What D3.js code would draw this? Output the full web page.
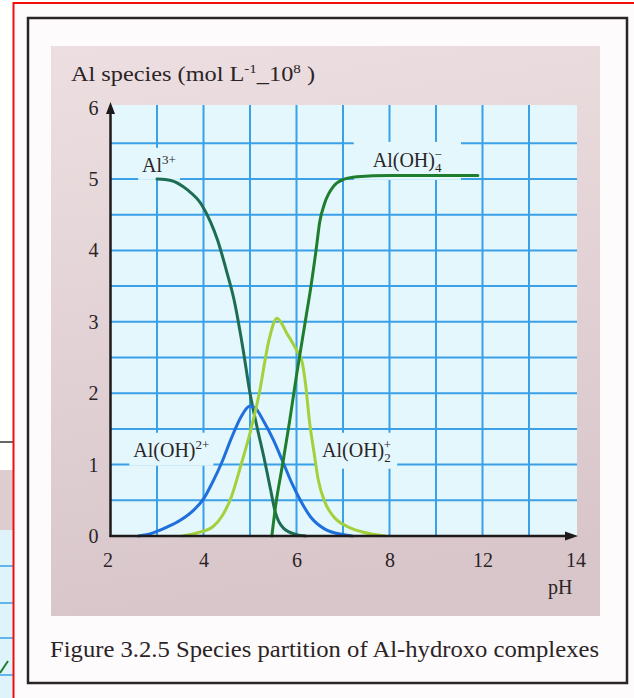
<!DOCTYPE html>
<html>
<head>
<meta charset="utf-8">
<script src="https://cdn.jsdelivr.net/npm/d3@7"></script>
<style>
  html, body { margin: 0; padding: 0; background: #fff; }
  svg { display: block; }
</style>
</head>
<body>
<div id="chart"></div>
<script>
// Species partition of Al-hydroxo complexes (textbook fig 3.2.5)

// x values are pH positions on the axis, y in mol L-1 x 10^8
const al3 = [
  [3.0, 5.0], [3.3, 4.98], [3.65, 4.85], [3.95, 4.65], [4.15, 4.4], [4.3, 4.15],
  [4.5, 3.7], [4.65, 3.33], [4.85, 2.62], [5.0, 2.0], [5.15, 1.53], [5.3, 1.1],
  [5.43, 0.69], [5.55, 0.32], [5.72, 0.11], [6.0, 0.02], [6.2, 0]
];
const alOH = [
  [2.6, 0], [2.9, 0.04], [3.2, 0.12], [3.5, 0.22], [3.8, 0.37], [4.0, 0.52],
  [4.2, 0.76], [4.4, 1.04], [4.6, 1.37], [4.8, 1.66], [5.0, 1.82], [5.1, 1.8],
  [5.3, 1.6], [5.5, 1.35], [5.7, 1.05], [5.9, 0.74], [6.1, 0.48], [6.3, 0.27],
  [6.6, 0.1], [7.0, 0.02], [7.2, 0]
];
const alOH2 = [
  [3.55, 0], [3.9, 0.05], [4.2, 0.13], [4.4, 0.28], [4.6, 0.55], [4.8, 0.98],
  [5.0, 1.44], [5.2, 2.0], [5.4, 2.72], [5.58, 3.05], [5.8, 2.83], [6.02, 2.58],
  [6.12, 2.44], [6.2, 2.1], [6.28, 1.6], [6.37, 1.2], [6.47, 0.78], [6.62, 0.46],
  [6.8, 0.27], [7.1, 0.13], [7.4, 0.06], [7.9, 0]
];
const alOH4 = [
  [5.47, 0], [5.55, 0.42], [5.7, 1.0], [5.85, 1.6], [6.0, 2.25], [6.1, 2.65],
  [6.2, 3.05], [6.3, 3.45], [6.42, 4.0], [6.5, 4.4], [6.6, 4.65], [6.8, 4.9],
  [7.0, 4.99], [7.3, 5.03], [8.0, 5.05], [9.9, 5.05]
];

const xTicks = [2, 4, 6, 8, 10, 12];
const xTickLabels = ['2', '4', '6', '8', '12', '14'];
const yTicks = [0, 1, 2, 3, 4, 5, 6];

const series = [
  { key: 'al3', data: al3, color: '#1c6d52' },
  { key: 'aloh', data: alOH, color: '#1f6fdd' },
  { key: 'aloh2', data: alOH2, color: '#a3d13c' },
  { key: 'aloh4', data: alOH4, color: '#1f7e2e' }
];

// label text pieces, anchored at (pH, value) of the text start/baseline
const labels = [
  { base: 'Al', sub: null, sup: '3+', at: [2.68, 5.1], pad: [4, 4] },
  { base: 'Al(OH)', sub: '4', sup: '\u2212', at: [7.64, 5.17], pad: [19, 5] },
  { base: 'Al(OH)', sub: null, sup: '2+', at: [2.49, 1.11], pad: [4, 4] },
  { base: 'Al(OH)', sub: '2', sup: '+', at: [6.55, 1.11], pad: [6, 4] }
];

const W = 634, H = 698;
const svg = d3.select('#chart').append('svg')
  .attr('width', W).attr('height', H)
  .style('font-family', '"Liberation Serif", "Times New Roman", serif');

const defs = svg.append('defs');
const grad = defs.append('linearGradient').attr('id', 'pink')
  .attr('x1', 0).attr('y1', 0).attr('x2', 0.15).attr('y2', 1);
grad.append('stop').attr('offset', '0%').attr('stop-color', '#eddfe1');
grad.append('stop').attr('offset', '100%').attr('stop-color', '#d8c6ca');

// fragment of the neighbouring page at the far left
svg.append('rect').attr('x', 0).attr('y', 0).attr('width', W).attr('height', H).attr('fill', '#fff');
svg.append('line').attr('x1', 0).attr('x2', 13).attr('y1', 442).attr('y2', 442)
  .attr('stroke', '#333').attr('stroke-width', 1.5);
svg.append('rect').attr('x', 0).attr('y', 470).attr('width', 13).attr('height', 60).attr('fill', '#ddcdd0');
svg.append('rect').attr('x', 0).attr('y', 530).attr('width', 13).attr('height', 168).attr('fill', '#dff3fa');
[566, 603, 638, 675].forEach(yy => {
  svg.append('line').attr('x1', 0).attr('x2', 13).attr('y1', yy).attr('y2', yy)
    .attr('stroke', '#3a9fe6').attr('stroke-width', 1.5);
});
svg.append('line').attr('x1', 0).attr('x2', 8).attr('y1', 673).attr('y2', 661)
  .attr('stroke', '#1f7e2e').attr('stroke-width', 2);

// red selection frame
svg.append('rect').attr('x', 13.5).attr('y', 3).attr('width', 640).attr('height', 720)
  .attr('fill', '#fefbfc').attr('stroke', '#f20d0d').attr('stroke-width', 2);

// figure frame and panel
svg.append('rect').attr('x', 28).attr('y', 18).attr('width', 599).attr('height', 665)
  .attr('fill', '#fefbfc').attr('stroke', '#2a2426').attr('stroke-width', 2.5);
svg.append('rect').attr('x', 51).attr('y', 46).attr('width', 549).attr('height', 570)
  .attr('fill', 'url(#pink)');

const x = d3.scaleLinear().domain([2, 12]).range([110.5, 575.5]);
const y = d3.scaleLinear().domain([0, 6]).range([536, 107.6]);

// plot area
svg.append('rect')
  .attr('x', x(2)).attr('y', 105)
  .attr('width', 577 - x(2)).attr('height', y(0) - 105)
  .attr('fill', '#e3f7fc');

const grid = svg.append('g').attr('stroke', '#3aa0e8').attr('stroke-width', 2);
grid.selectAll('line.v').data(d3.range(3, 12)).join('line')
  .attr('class', 'v')
  .attr('x1', d => x(d)).attr('x2', d => x(d))
  .attr('y1', 105).attr('y2', y(0));
grid.selectAll('line.h').data(d3.range(0.5, 6, 0.5)).join('line')
  .attr('class', 'h')
  .attr('x1', x(2)).attr('x2', 577)
  .attr('y1', d => y(d)).attr('y2', d => y(d));

// labels (with background patches that cut the grid)
const labelG = svg.append('g').style('font-size', '20px').attr('fill', '#2a2426');
labels.forEach(l => {
  const g = labelG.append('g');
  const t = g.append('text').attr('x', x(l.at[0])).attr('y', y(l.at[1])).text(l.base);
  if (l.sub) {
    t.append('tspan').attr('dy', 5).style('font-size', '13px').text(l.sub);
    t.append('tspan').attr('dx', -7).attr('dy', -13).style('font-size', '13px').text(l.sup);
  } else {
    t.append('tspan').attr('dy', -8).style('font-size', '13px').text(l.sup);
  }
  const b = t.node().getBBox();
  g.insert('rect', 'text')
    .attr('x', b.x - l.pad[0]).attr('y', b.y - l.pad[1])
    .attr('width', b.width + 2 * l.pad[0]).attr('height', b.height + 2 * l.pad[1])
    .attr('fill', '#e3f7fc');
});

// curves
const line = d3.line().x(d => x(d[0])).y(d => y(d[1])).curve(d3.curveMonotoneX);
svg.append('g').selectAll('path').data(series).join('path')
  .attr('d', d => line(d.data))
  .attr('fill', 'none')
  .attr('stroke', d => d.color)
  .attr('stroke-width', 3)
  .attr('stroke-linecap', 'round')
  .attr('stroke-linejoin', 'round');

// axes
const axisColor = '#1d1a1b';
const yAxis = svg.append('g').attr('transform', `translate(${x(2)},0)`)
  .call(d3.axisLeft(y).tickValues(yTicks).tickSize(0).tickPadding(12).tickFormat(d3.format('d')));
const xAxis = svg.append('g').attr('transform', `translate(0,${y(0)})`)
  .call(d3.axisBottom(x).tickValues(xTicks).tickSize(0).tickPadding(17)
    .tickFormat((d, i) => xTickLabels[i]));
[yAxis, xAxis].forEach(a => {
  a.select('.domain').remove();
  a.selectAll('text')
    .style('font-family', '"Liberation Serif", "Times New Roman", serif')
    .style('font-size', '20px').attr('fill', '#2a2426');
});
xAxis.selectAll('.tick text').attr('dx', (d, i) => i === 0 ? -3 : 0);

svg.append('line').attr('x1', x(2)).attr('x2', x(2)).attr('y1', y(0) + 1).attr('y2', 112)
  .attr('stroke', axisColor).attr('stroke-width', 2.5);
svg.append('path')
  .attr('d', `M${x(2)},102 L${x(2) - 4.5},114 L${x(2) + 4.5},114 Z`)
  .attr('fill', axisColor);
svg.append('line').attr('x1', x(2) - 1).attr('x2', 568).attr('y1', y(0)).attr('y2', y(0))
  .attr('stroke', axisColor).attr('stroke-width', 2.5);
svg.append('path')
  .attr('d', `M578,${y(0)} L565,${y(0) - 4.5} L565,${y(0) + 4.5} Z`)
  .attr('fill', axisColor);

// axis titles
const title = svg.append('text').attr('x', 71).attr('y', 81)
  .attr('fill', '#2a2426').style('font-size', '21px')
  .attr('textLength', 244).attr('lengthAdjust', 'spacingAndGlyphs');
title.append('tspan').text('Al species (mol L');
title.append('tspan').attr('dy', -8).style('font-size', '13px').text('-1');
title.append('tspan').attr('dy', 8).text('_10');
title.append('tspan').attr('dy', -8).style('font-size', '13px').text('8');
title.append('tspan').attr('dy', 8).text(' )');

svg.append('text').attr('x', 548).attr('y', 594)
  .attr('fill', '#2a2426').style('font-size', '20px').text('pH');

// caption
svg.append('text').attr('x', 50).attr('y', 657)
  .attr('fill', '#2a2426').style('font-size', '23px')
  .attr('textLength', 549).attr('lengthAdjust', 'spacingAndGlyphs')
  .text('Figure 3.2.5 Species partition of Al-hydroxo complexes');
</script>
</body>
</html>
